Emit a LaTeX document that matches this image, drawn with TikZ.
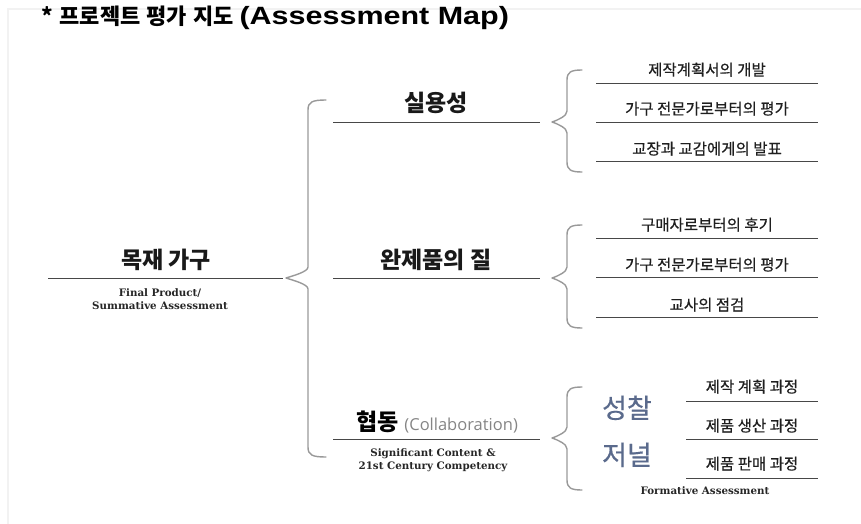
\documentclass[tikz,border=0pt]{standalone}
\usepackage{fontspec}
\newfontfamily\kr{Noto Sans CJK KR}
\newfontfamily\krm{Noto Sans CJK KR}[FakeBold=0.5]
\newfontfamily\lsans{Liberation Sans}
\newfontfamily\serifb{DejaVu Serif}
\newfontfamily\osans{Open Sans}
\definecolor{slate}{HTML}{5A6A8C}
\newcommand\mybrace[6]{% xtip, xv, xend, ytop, ymid, ybot
  \draw[brace] (#3,#4) .. controls ({#2+4},#4) and (#2,{#4+2}) .. (#2,{#4+10})
    -- (#2,{#5-11}) .. controls (#2,{#5-6}) and ({#1+6},{#5-2}) .. (#1,#5)
    .. controls ({#1+6},{#5+2}) and (#2,{#5+6}) .. (#2,{#5+11})
    -- (#2,{#6-10}) .. controls (#2,{#6-2}) and ({#2+4},#6) .. (#3,#6);}
\begin{document}
\begin{tikzpicture}[x=1pt,y=-1pt,
  every node/.style={inner sep=0pt, outer sep=0pt},
  head/.style={font=\kr\bfseries\fontsize{23}{27}\selectfont, text=black!90, anchor=base},
  item/.style={font=\krm\fontsize{15.5}{18}\selectfont, text=black!88, anchor=base},
  sub/.style={font=\serifb\bfseries\fontsize{10.3}{12}\selectfont, text=black!85, anchor=base},
  rule/.style={draw=black!72, line width=1pt},
  brace/.style={draw=black!40, line width=1.4pt, line cap=round, line join=round},
]
\useasboundingbox (0,0) rectangle (861,524);
\draw[black!5, line width=2pt] (8,524) -- (8,9) -- (861,9);

% title
\node[anchor=base west] (title) at (41,25)
  {\kr\bfseries\fontsize{22}{26}\selectfont *\hspace{7pt}프로젝트\hspace{6pt}평가\hspace{6pt}지도\hspace{6pt}{\lsans\bfseries\fontsize{25}{28}\selectfont\scalebox{1.22}[1]{(Assessment Map)}}};

% root
\node[head] (root) at (166,268) {목재 가구};
\draw[rule] (48,278) -- (283,278);
\node[sub] (rootsub1) at (160,296.5) {Final Product/};
\node[sub] (rootsub2) at (160,309.5) {Summative Assessment};

% big brace
\mybrace{286}{308}{326}{100}{278}{457}

% branch heads
\node[head] (b1) at (436,111) {실용성};
\draw[rule] (333,122) -- (540,122);
\node[head] (b2) at (436,268) {완제품의 질};
\draw[rule] (333,278) -- (540,278);
\node[anchor=base] (b3) at (437,430) {\kr\bfseries\fontsize{23}{27}\selectfont 협동\hspace{6pt}{\osans\mdseries\fontsize{16.5}{19}\selectfont\color{black!48}(Collaboration)}};
\draw[rule] (333,439) -- (540,439);
\node[sub] (b3sub1) at (433,456.5) {Significant Content \&};
\node[sub] (b3sub2) at (433,469.5) {21st Century Competency};

% right braces
\mybrace{552}{567}{582}{70}{122}{172}
\mybrace{552}{567}{582}{225}{278}{328}
\mybrace{552}{567}{582}{387}{438}{490}

% items group 1
\node[item] (i11) at (707,75.5) {제작계획서의 개발};
\draw[rule] (596,84) -- (818,84);
\node[item] (i12) at (707,114.5) {가구 전문가로부터의 평가};
\draw[rule] (596,122) -- (818,122);
\node[item] (i13) at (707,154.5) {교장과 교감에게의 발표};
\draw[rule] (596,161) -- (818,161);

% items group 2
\node[item] (i21) at (707,230.5) {구매자로부터의 후기};
\draw[rule] (596,238) -- (818,238);
\node[item] (i22) at (707,270.5) {가구 전문가로부터의 평가};
\draw[rule] (596,277) -- (818,277);
\node[item] (i23) at (707,310.5) {교사의 점검};
\draw[rule] (596,317) -- (818,317);

% group 3
\node[anchor=base] (j1) at (627,418) {\krm\fontsize{27}{30}\selectfont\color{slate}성찰};
\node[anchor=base] (j2) at (627,465) {\krm\fontsize{27}{30}\selectfont\color{slate}저널};
\node[item] (i31) at (752,392.5) {제작 계획 과정};
\draw[rule] (686,401) -- (818,401);
\node[item] (i32) at (752,431.5) {제품 생산 과정};
\draw[rule] (686,439) -- (818,439);
\node[item] (i33) at (752,469.5) {제품 판매 과정};
\draw[rule] (686,478) -- (818,478);
\node[sub] (fa) at (705,494.5) {Formative Assessment};
\end{tikzpicture}
\end{document}
